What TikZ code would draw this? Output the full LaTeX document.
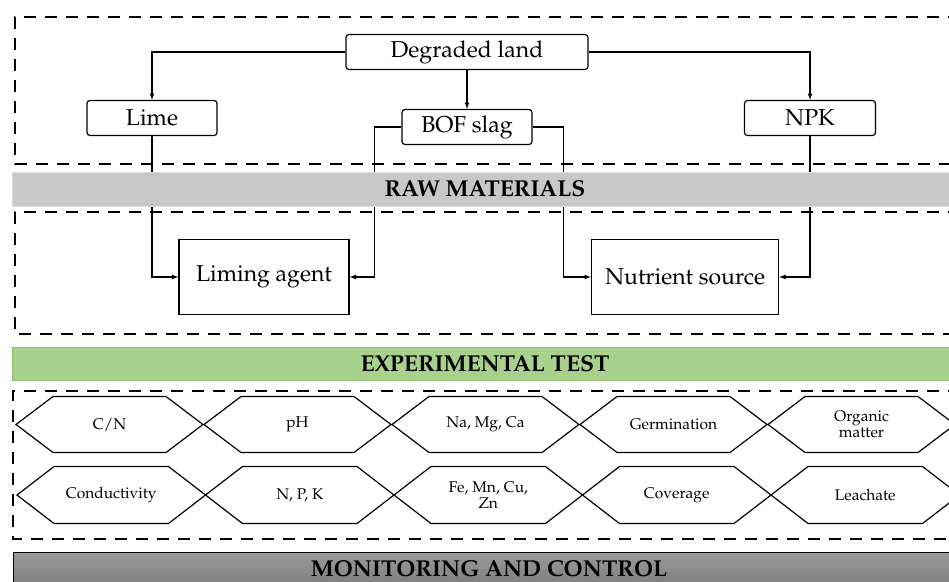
\documentclass[tikz,border=0pt]{standalone}
\usepackage[T1]{fontenc}
\usepackage{mathpazo}
\usetikzlibrary{positioning,arrows}

\definecolor{rawgray}{RGB}{200,200,200}
\definecolor{rawline}{RGB}{222,222,222}
\definecolor{testgreen}{RGB}{169,209,142}
\definecolor{testline}{RGB}{143,192,111}
\definecolor{mondark}{RGB}{155,155,155}
\definecolor{mondeep}{RGB}{125,125,125}

\begin{document}
\begin{tikzpicture}[x=1pt,y=-1pt,
	box/.style={draw, rounded corners=3pt, line width=1.2pt, minimum width=130pt, minimum height=35pt, inner sep=0pt, font=\fontsize{23}{26}\selectfont},
	agent/.style={draw, line width=1.2pt, minimum height=75pt, inner sep=0pt, font=\fontsize{23}{26}\selectfont},
	arrow/.style={draw=black, -latex, line width=1.2pt},
	zone/.style={draw, dash pattern=on 12pt off 9pt, line width=2.3pt},
	bar/.style={minimum width=945pt, minimum height=34pt, inner sep=0pt, font=\fontsize{23}{26}\selectfont\bfseries},
	hexline/.style={draw, line width=1.2pt},
	hextext/.style={align=center, font=\fontsize{15.5}{16}\selectfont}]
	\useasboundingbox (0,0) rectangle (949,581);
	\clip (0,0) rectangle (949,581);

	% dashed zones
	\draw[zone] (960,17) -| (15,164) -- (960,164);
	\draw[zone] (960,212) -| (15,334) -- (960,334);
	\draw[zone] (960,391) -| (13,539) -- (960,539);

	% raw materials
	\node[box, minimum width=242pt] (land) at (467,52) {Degraded land};
	\node[box] (lime) at (152,118) {Lime};
	\node[box] (bof) at (467,127) {BOF slag};
	\node[box, minimum width=131pt] (npk) at (810,118) {NPK};
	\node[agent, minimum width=170pt] (liming) at (264,277) {Liming agent};
	\node[agent, minimum width=187pt] (nutrient) at (685,277) {Nutrient source};

	\draw[arrow] (land.west) -| (lime.north);
	\draw[arrow] (land.east) -| (npk.north);
	\draw[arrow] (land.south) -- (bof.north);
	\draw[arrow] (lime.south) |- (liming.west);
	\draw[arrow] (bof.west) -- ++(-27,0) |- (liming.east);
	\draw[arrow] (bof.east) -- ++(31,0) |- (nutrient.west);
	\draw[arrow] (npk.south) |- (nutrient.east);

	% bars
	\node[bar, draw=rawline, fill=rawgray] (raw) at (485,189) {RAW MATERIALS};
	\node[bar, draw=testline, fill=testgreen, minimum height=33pt] (exp) at (485,363.5) {EXPERIMENTAL TEST};
	\node[bar, draw=black, line width=1pt, top color=mondark, bottom color=mondeep, minimum width=952pt] (mon) at (489,569) {MONITORING AND CONTROL};

	% tests
	\foreach \lbl [count=\i from 0] in {C/N, pH, {Na, Mg, Ca}, Germination, {Organic\\matter}} {
		\draw[hexline] (16+188*\i,424.5) -- ++(37,-28) -- ++(113,0) -- ++(37,28) -- ++(-37,28) -- ++(-113,0) -- cycle;
		\node[hextext] (top\i) at (109.5+188*\i,424.5) {\lbl};
	}
	\foreach \lbl [count=\i from 0] in {Conductivity, {N, P, K}, {Fe, Mn, Cu,\\Zn}, Coverage, Leachate} {
		\draw[hexline] (17+188.5*\i,495) -- ++(37,-28.5) -- ++(114.5,0) -- ++(37,28.5) -- ++(-37,28.5) -- ++(-114.5,0) -- cycle;
		\node[hextext] (bot\i) at (111.25+188.5*\i,495) {\lbl};
	}
\end{tikzpicture}
\end{document}
